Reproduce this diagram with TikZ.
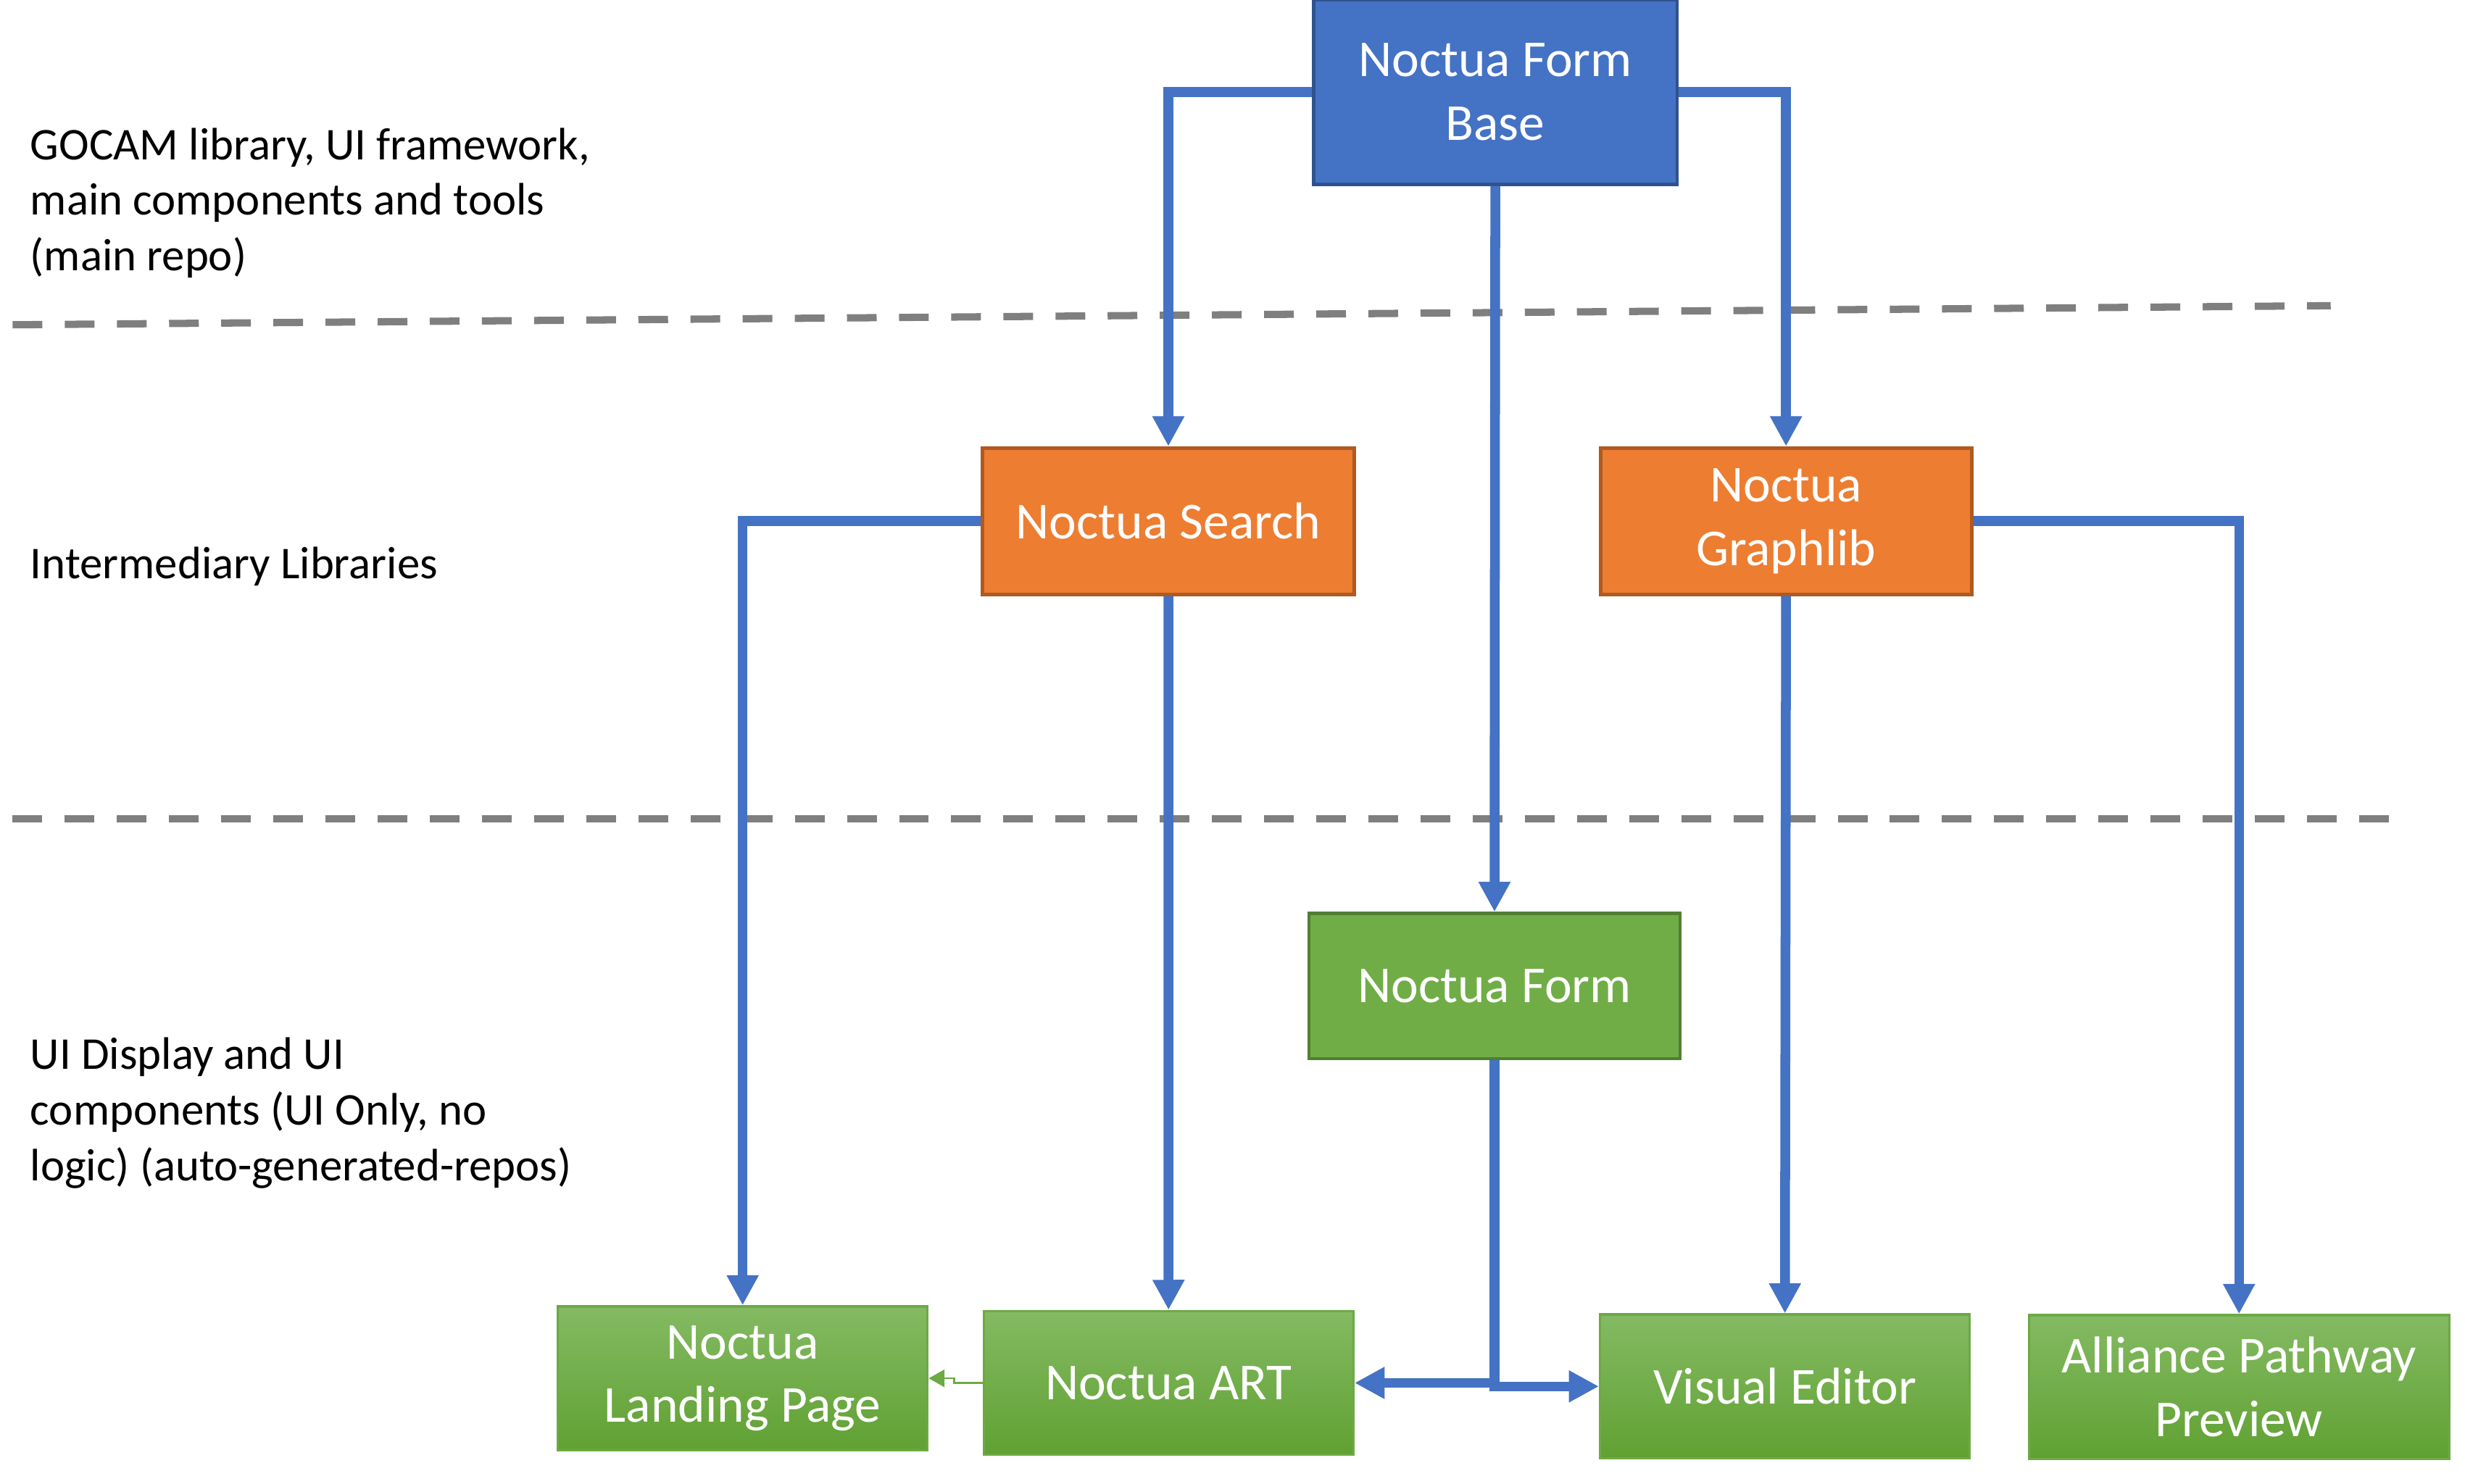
\documentclass[tikz,border=0pt]{standalone}
\usepackage{fontspec}
\setmainfont{Carlito}
\usetikzlibrary{arrows.meta}
\definecolor{baseblue}{HTML}{4472C4}
\definecolor{baseline}{HTML}{2F528F}
\definecolor{liborange}{HTML}{ED7D31}
\definecolor{libline}{HTML}{AE5A21}
\definecolor{formgreen}{HTML}{70AD47}
\definecolor{formline}{HTML}{507E32}
\definecolor{uitop}{HTML}{84BA63}
\definecolor{uibottom}{HTML}{60A132}
\definecolor{uiline}{HTML}{6DA945}
\definecolor{sepgray}{HTML}{7F7F7F}

\begin{document}
\begin{tikzpicture}[x=1pt,y=-1pt,
	box_node/.style={rectangle,draw,line width=1.5pt,text=white,align=center,inner sep=0pt,font=\fontsize{32.8}{40.2}\selectfont,minimum width=235pt,minimum height=91pt},
	base_node/.style={box_node,fill=baseblue,draw=baseline,line width=2pt,minimum width=230pt,minimum height=117pt},
	lib_node/.style={box_node,fill=liborange,draw=libline,line width=2.3pt,minimum height=92.5pt},
	form_node/.style={box_node,fill=formgreen,draw=formline,line width=2pt,minimum height=92pt},
	ui_node/.style={box_node,top color=uitop,bottom color=uibottom,draw=uiline,minimum width=234pt},
	label_node/.style={anchor=west,align=left,inner sep=0pt,font=\fontsize{28.8}{35.2}\selectfont},
	dep_edge/.style={draw=baseblue,line width=6.2pt,-{Triangle[width=19pt,length=19pt]}},
	sep_line/.style={draw=sepgray,line width=4.6pt,dash pattern=on 18.8pt off 14.2pt}]

	\useasboundingbox (0,0) rectangle (1560,939);

	% layer labels
	\node[label_node] (l1) at (19,128.5) {GOCAM library, UI framework,\\main components and tools\\(main repo)};
	\node[label_node] (l2) at (19,358.5) {Intermediary Libraries};
	\node[label_node] (l3) at (19,704.5) {UI Display and UI\\components (UI Only, no\\logic) (auto-generated-repos)};

	% separators
	\draw[sep_line] (8,205.6) -- (1475,193.5);
	\draw[sep_line] (8,518.5) -- (1516,518.5);

	\node[base_node] (1) at (946.3,58.3) {Noctua Form\\Base};
	\node[lib_node] (2) at (739.4,329.9) {Noctua Search};
	\node[lib_node] (3) at (1130.3,329.9) {Noctua\\Graphlib};
	\node[form_node] (4) at (945.8,624.2) {Noctua Form};
	\node[ui_node] (5) at (470,872.5) {Noctua\\Landing Page};
	\node[ui_node] (6) at (739.5,875.4) {Noctua ART};
	\node[ui_node] (7) at (1129.6,877.6) {Visual Editor};
	\node[ui_node,minimum width=266pt] (8) at (1417,878) {Alliance Pathway\\Preview};

	\draw[dep_edge] (1.west) -| (2.north);
	\draw[dep_edge] (1.east) -| (3.north);
	\draw[dep_edge] (1.south) -- (4.north);
	\draw[dep_edge] (2.west) -| (5.north);
	\draw[dep_edge] (2.south) -- (6.north);
	\draw[dep_edge] (3.south) -- (7.north);
	\draw[dep_edge] (3.east) -| (8.north);
	\draw[dep_edge] (4.south) |- (6.east);
	\draw[dep_edge] (4.south) |- (7.west);
	\draw[draw=uiline,line width=1.2pt,-{Triangle[width=11pt,length=10pt]}] (6.west) -- ++(-18,0) |- (5.east);
\end{tikzpicture}
\end{document}
